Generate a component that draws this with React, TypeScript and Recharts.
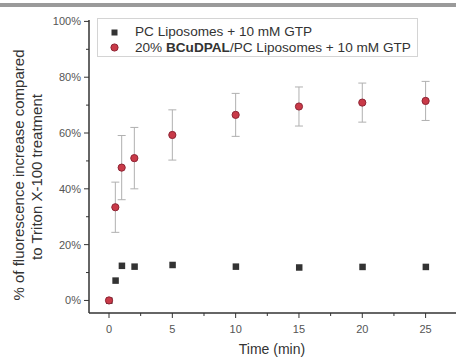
import {
  ScatterChart, Scatter, XAxis, YAxis, ErrorBar, Legend,
} from 'recharts';

const times = [0, 0.5, 1, 2, 5, 10, 15, 20, 25];
const pcValues = [0, 7.2, 12.5, 12.2, 12.8, 12.2, 11.9, 12.1, 12.1];
const bcuValues = [0, 33.4, 47.6, 51.0, 59.3, 66.5, 69.5, 70.9, 71.5];
const bcuErrors = [0, 9, 11.5, 11, 9, 7.7, 7, 7, 7];

const xTicks = [0, 2.5, 5, 7.5, 10, 12.5, 15, 17.5, 20, 22.5, 25];
const yTicks = [0, 10, 20, 30, 40, 50, 60, 70, 80, 90, 100];

const pcLabel = 'PC Liposomes + 10 mM GTP';
const yLabel1 = '% of fluorescence increase compared';
const yLabel2 = 'to Triton X-100 treatment';

const FONT = '"Liberation Sans", Arial, sans-serif';
const AXIS = '#333';
const RED = '#c93a48';

const pcData = times.map((t, i) => ({ t, v: pcValues[i] }));
const bcuData = times.map((t, i) => ({ t, v: bcuValues[i], err: bcuErrors[i] }));

function XTick({ x, y, payload }: any) {
  const major = payload.value % 5 === 0;
  return (
    <g>
      <line x1={x} x2={x} y1={y} y2={y + (major ? 5 : 3)} stroke={AXIS} strokeWidth={1} />
      {major && (
        <text x={x} y={y + 20} textAnchor="middle" fontSize={11} fill="#555" fontFamily={FONT}>
          {payload.value}
        </text>
      )}
    </g>
  );
}

function YTick({ x, y, payload }: any) {
  const major = payload.value % 20 === 0;
  return (
    <g>
      <line x1={x - (major ? 5 : 3)} x2={x} y1={y} y2={y} stroke={AXIS} strokeWidth={1} />
      {major && (
        <text x={x - 8} y={y} dy={4} textAnchor="end" fontSize={11} fill="#555" fontFamily={FONT}>
          {`${payload.value}%`}
        </text>
      )}
    </g>
  );
}

const squareShape = (p: any) => (
  <rect x={p.cx - 3} y={p.cy - 3} width={6.5} height={6.5} fill="#333" />
);
const circleShape = (p: any) => (
  <circle cx={p.cx} cy={p.cy} r={3.6} fill={RED} stroke="#8e2434" strokeWidth={1} />
);

function LegendBox() {
  return (
    <div
      style={{
        width: 321, height: 39, border: '1px solid #d4d4d4', boxSizing: 'border-box',
        fontFamily: FONT, fontSize: 13.6, color: '#333', position: 'relative', background: '#fff',
      }}
    >
      <svg width={30} height={39} style={{ position: 'absolute', left: 0, top: 0 }}>
        <rect x={13.5} y={10.5} width={6} height={6} fill="#333" />
        <circle cx={16.5} cy={28.5} r={3.6} fill={RED} stroke="#8e2434" />
      </svg>
      <div style={{ position: 'absolute', left: 37, top: 5, whiteSpace: 'nowrap', lineHeight: '15px' }}>
        {pcLabel}
      </div>
      <div style={{ position: 'absolute', left: 37, top: 21, whiteSpace: 'nowrap', lineHeight: '15px' }}>
        20% <b>BCuDPAL</b>/PC Liposomes + 10 mM GTP
      </div>
    </div>
  );
}

export default function App() {
  return (
    <div style={{ position: 'absolute', left: 0, top: 0, width: 456, height: 358, background: '#fff' }}>
      <div style={{ position: 'absolute', left: 0, top: 3, width: 456, height: 4, background: '#9a9a9a' }} />
      <ScatterChart width={456} height={358} margin={{ top: 20, right: 0, bottom: 0, left: 0 }}>
        <XAxis
          type="number"
          dataKey="t"
          domain={[-1.58, 27.4]}
          ticks={xTicks}
          tick={<XTick />}
          tickLine={false}
          tickSize={0}
          tickMargin={0}
          height={45}
          allowDataOverflow
          axisLine={{ stroke: AXIS, strokeWidth: 1.5 }}
          label={{
            content: () => (
              <text x={272} y={354} textAnchor="middle" fontSize={14} fill="#333" fontFamily={FONT}>
                Time (min)
              </text>
            ),
          }}
        />
        <YAxis
          type="number"
          dataKey="v"
          domain={[-4.5, 100.5]}
          ticks={yTicks}
          tick={<YTick />}
          tickLine={false}
          tickSize={0}
          tickMargin={0}
          width={89}
          allowDataOverflow
          axisLine={{ stroke: AXIS, strokeWidth: 1.5 }}
          label={{
            content: () => (
              <g fontSize={15} fill="#333" fontFamily={FONT}>
                <text x={18} y={175} textAnchor="middle" dominantBaseline="central" transform="rotate(-90, 18, 175)">
                  {yLabel1}
                </text>
                <text x={36} y={177} textAnchor="middle" dominantBaseline="central" transform="rotate(-90, 36, 177)">
                  {yLabel2}
                </text>
              </g>
            ),
          }}
        />
        <Legend
          layout="vertical"
          align="center"
          verticalAlign="middle"
          wrapperStyle={{ left: 97, top: 18, width: 321 }}
          content={() => <LegendBox />}
        />
        <Scatter name={pcLabel} data={pcData} shape={squareShape} isAnimationActive={false} />
        <Scatter name="bcu" data={bcuData} shape={circleShape} isAnimationActive={false}>
          <ErrorBar dataKey="err" direction="y" width={4} stroke="#b0b0b0" strokeWidth={1} />
        </Scatter>
      </ScatterChart>
    </div>
  );
}
